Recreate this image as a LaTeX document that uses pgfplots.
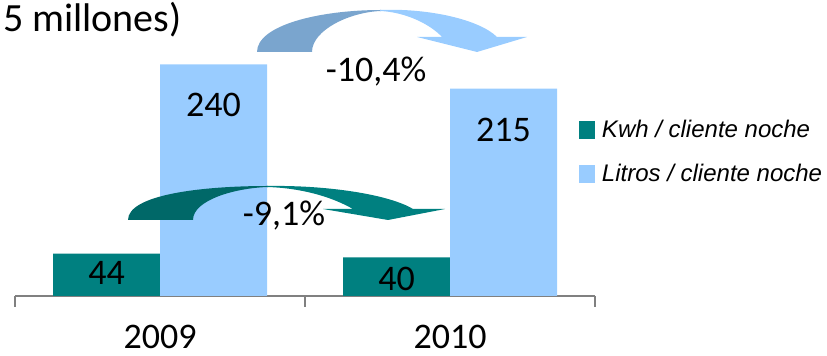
\documentclass[border=0pt]{standalone}
\usepackage{pgfplots}
\pgfplotsset{compat=1.18}
\usepackage{fontspec}
\setmainfont{Carlito}
\newfontfamily\legfont{Liberation Sans}
\definecolor{tealc}{HTML}{008080}
\definecolor{darkteal}{HTML}{006868}
\definecolor{lightb}{HTML}{99CCFF}
\definecolor{darkb}{HTML}{7AA5CE}
\definecolor{axgray}{HTML}{808080}
\begin{document}
\begin{tikzpicture}
\useasboundingbox (0,0) rectangle (620.25pt,267pt);
\begin{axis}[
  at={(11.25pt,45pt)}, anchor=south west,
  scale only axis, width=435pt, height=217.125pt,
  xmin=-0.5, xmax=1.5, ymin=0, ymax=300,
  axis x line=bottom, axis y line=none,
  x axis line style={-, color=axgray, line width=1.2pt},
  xtick={-0.5,0.5,1.5}, xticklabels={},
  ytick=\empty,
  tick align=outside, major tick length=8.25pt,
  x tick style={color=axgray, line width=1.2pt},
  clip=false,
  legend style={at={(rel axis cs:0.9724,0.608)}, anchor=north west,
    draw=none, fill=none, inner sep=0pt, outer sep=0pt,
    font=\legfont\itshape\fontsize{18}{20}\selectfont,
    row sep=18.75pt, column sep=5.25pt, nodes={inner sep=0pt}},
  legend cell align=left,
  legend image code/.code={\fill[#1] (0pt,-6.75pt) rectangle (12pt,6.75pt);},
]
\addplot[ybar, bar width=80.25pt, bar shift=-40.125pt, fill=tealc, draw=none]
  coordinates {(0,44) (1,40)};
\addlegendentry{Kwh / cliente noche}
\addplot[ybar, bar width=80.25pt, bar shift=40.125pt, fill=lightb, draw=none]
  coordinates {(0,240) (1,215)};
\addlegendentry{Litros / cliente noche}

\begin{scope}[font=\fontsize{27}{30}\selectfont]
\node[anchor=base, xshift=-40.125pt] at (axis cs:0,11.4) {44};
\node[anchor=base, xshift=40.125pt] at (axis cs:0,185.5) {240};
\node[anchor=base, xshift=-40.125pt] at (axis cs:1,6.2) {40};
\node[anchor=base, xshift=40.125pt] at (axis cs:1,159.6) {215};
\node[anchor=base, inner sep=0pt, yshift=-39.75pt] at (axis cs:0,0) {2009};
\node[anchor=base, inner sep=0pt, yshift=-39.75pt] at (axis cs:1,0) {2010};
\end{scope}
\end{axis}

\begin{scope}[x=0.75pt, y=-0.75pt, yshift=267pt]
% big arrow
\fill[darkb] (257,52) .. controls (257,25) and (320,10) .. (381,10)
  -- (381,11) .. controls (350,12) and (312,30) .. (312,52) -- cycle;
\fill[lightb] (380,10) .. controls (430,8) and (480,20) .. (497,37)
  -- (527,37) -- (477,52) -- (417,37) -- (442,37)
  .. controls (430,24) and (405,12) .. (380,11) -- cycle;
% teal arrow
\fill[darkteal] (128,220) .. controls (128,195) and (200,186) .. (268,186)
  -- (268,187) .. controls (235,188) and (193,200) .. (193,220) -- cycle;
\fill[tealc] (267,186) .. controls (330,185) and (390,195) .. (413,209)
  -- (445,209) -- (388,220) -- (323,209) -- (353,209)
  .. controls (330,196) and (300,188) .. (267,187) -- cycle;
\node[anchor=base, font=\fontsize{27}{30}\selectfont] at (376,82) {-10,4\%};
\node[anchor=base, font=\fontsize{27}{30}\selectfont] at (284,226) {-9,1\%};
\node[anchor=base east, inner sep=0pt, font=\fontsize{30}{33}\selectfont] at (182,32) {5 millones)};
\end{scope}
\end{tikzpicture}
\end{document}
